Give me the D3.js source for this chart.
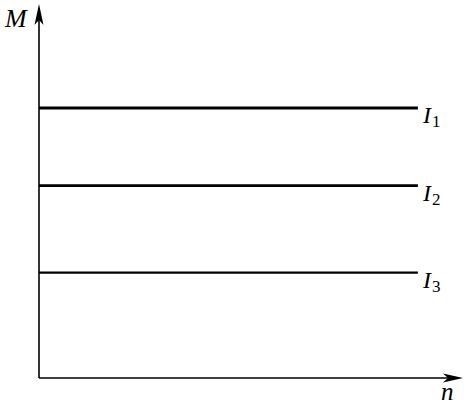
<!DOCTYPE html>
<html>
<head>
<meta charset="utf-8">
<script src="https://cdn.jsdelivr.net/npm/d3@7"></script>
<style>
  body { margin: 0; background: #fff; }
  text { font-family: "Liberation Serif", "DejaVu Serif", serif; font-style: italic; fill: #000; }
</style>
</head>
<body>
<script>
// currents and their torque level (M stays constant with speed n)
let currents = ["I1", "I2", "I3"];
let subscripts = ["1", "2", "3"];
let torque = [7.3, 5.2, 2.85];
let speedEnd = [9, 9, 9];
let strokeW = [3, 2.6, 2.2];

let width = 467, height = 406;
let origin = {x: 39, y: 378};
let svg, x, y;

appendSvg("body");
setupScales();
appendAxes();
appendLines();
appendLabels();

function appendSvg(el) {
  svg = d3.select(el).append("svg")
    .attr("width", width)
    .attr("height", height);
}

function setupScales() {
  x = d3.scaleLinear().domain([0, 10]).range([origin.x, 460]);
  y = d3.scaleLinear().domain([0, 10]).range([origin.y, 8]);
}

function appendAxes() {
  // y axis with arrow
  svg.append("line")
    .attr("x1", x(0)).attr("x2", x(0))
    .attr("y1", y(0)).attr("y2", 12)
    .attr("stroke", "#000").attr("stroke-width", 1.6);
  svg.append("path")
    .attr("d", `M${x(0)},4 L${x(0) - 4.5},25 L${x(0)},20 L${x(0) + 4.5},25 Z`)
    .attr("fill", "#000");

  // x axis with arrow
  svg.append("line")
    .attr("x1", x(0)).attr("x2", 455)
    .attr("y1", y(0)).attr("y2", y(0))
    .attr("stroke", "#000").attr("stroke-width", 1.6);
  svg.append("path")
    .attr("d", `M463,${y(0)} L443,${y(0) - 4.5} L448,${y(0)} L443,${y(0) + 4.5} Z`)
    .attr("fill", "#000");

  svg.append("text").attr("x", 5).attr("y", 27)
    .attr("font-size", 26).text("M");
  svg.append("text").attr("x", 441).attr("y", 400)
    .attr("font-size", 25).text("n");
}

function appendLines() {
  svg.selectAll("line.torque")
    .data(currents)
    .enter()
    .append("line")
      .attr("class", "torque")
      .attr("x1", x(0))
      .attr("x2", (d, i) => x(speedEnd[i]))
      .attr("y1", (d, i) => y(torque[i]))
      .attr("y2", (d, i) => y(torque[i]))
      .attr("stroke", "#000")
      .attr("stroke-width", (d, i) => strokeW[i]);
}

function appendLabels() {
  let t = svg.selectAll("text.lab")
    .data(currents)
    .enter()
    .append("text")
      .attr("class", "lab")
      .attr("x", 423)
      .attr("y", (d, i) => y(torque[i]) + 15)
      .attr("font-size", 24);
  t.append("tspan").text("I");
  t.append("tspan")
    .attr("dy", 4)
    .attr("dx", 1)
    .attr("font-size", 17)
    .style("font-style", "normal")
    .text((d, i) => subscripts[i]);
}
</script>
</body>
</html>
